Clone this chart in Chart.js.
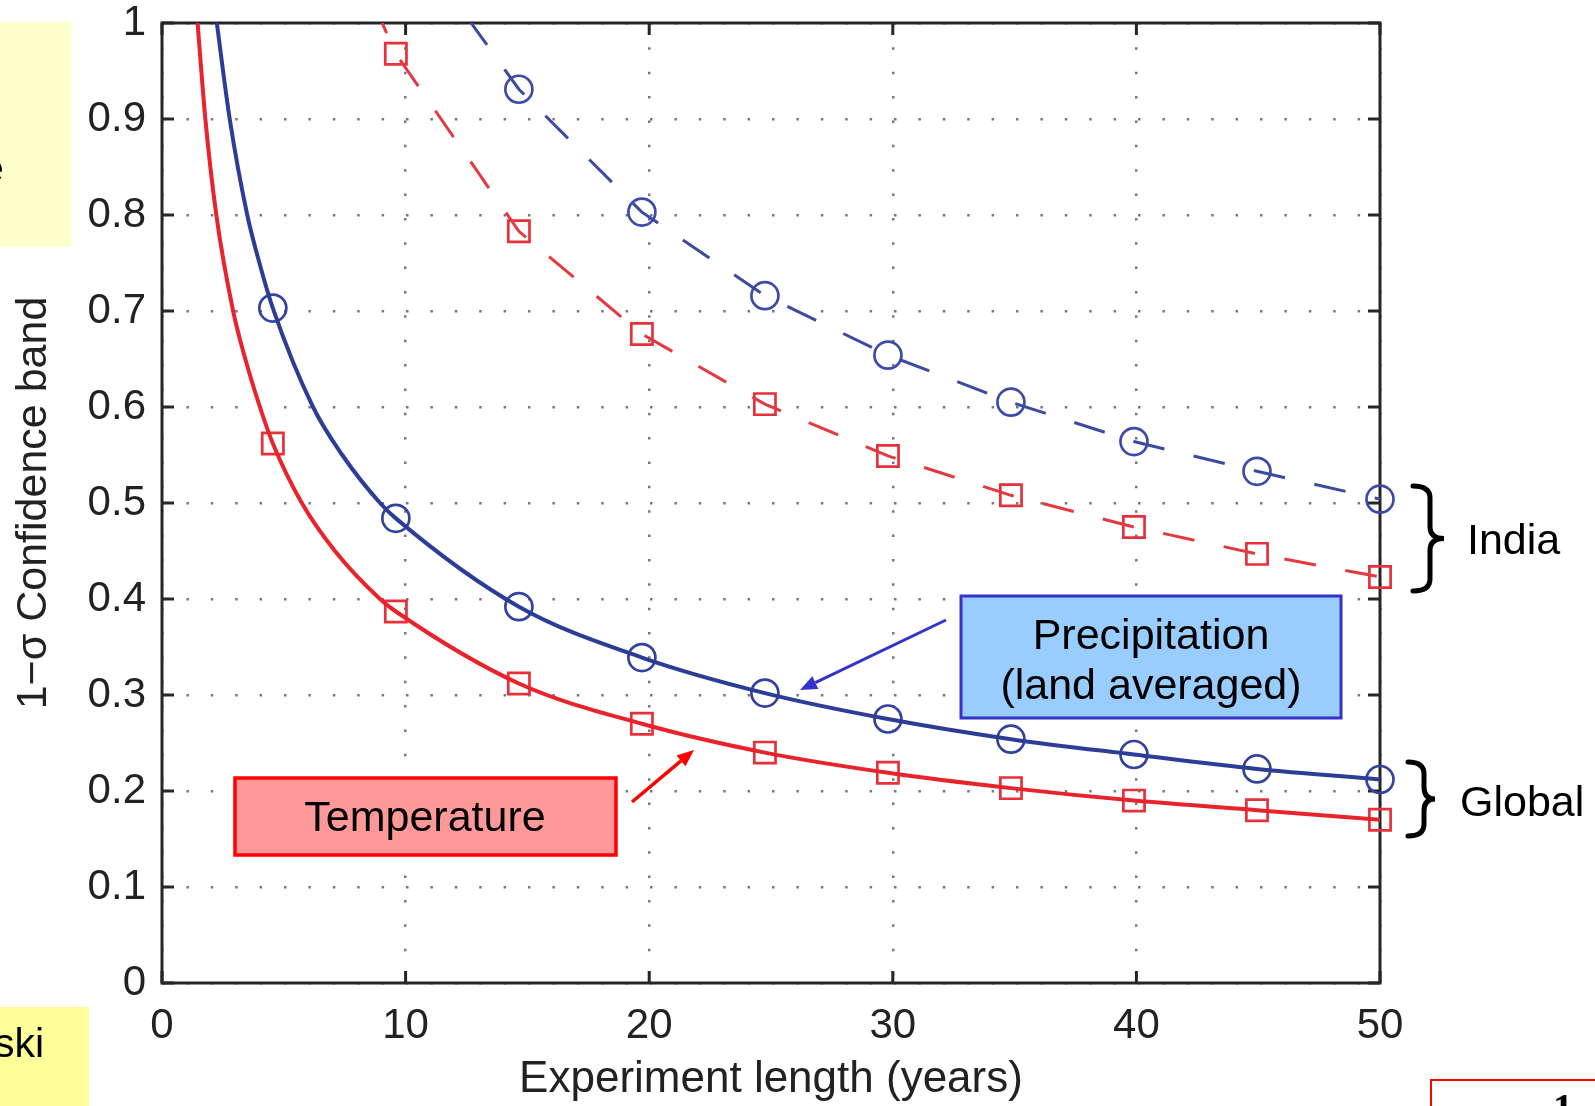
<!DOCTYPE html>
<html>
<head>
<meta charset="utf-8">
<script src="https://cdn.jsdelivr.net/npm/chart.js@4.4.1/dist/chart.umd.min.js"></script>
<style>
html,body{margin:0;padding:0;background:#fff;overflow:hidden}
canvas{display:block}
</style>
</head>
<body>
<canvas id="c" width="1595" height="1106"></canvas>
<script>
// ---- data ----
const markerX      = [4.55, 9.6, 14.65, 19.7, 24.75, 29.8, 34.85, 39.9, 44.95, 50];
const globalTemp   = [0.562, 0.387, 0.312, 0.270, 0.240, 0.219, 0.203, 0.190, 0.180, 0.170];
const globalPrecip = [0.703, 0.484, 0.392, 0.339, 0.302, 0.275, 0.254, 0.238, 0.223, 0.212];
const indiaTemp    = [1.256, 0.968, 0.783, 0.676, 0.603, 0.549, 0.508, 0.475, 0.447, 0.423];
const indiaPrecip  = [null, 1.109, 0.931, 0.803, 0.716, 0.654, 0.605, 0.564, 0.533, 0.504];

// extra points read along the steep parts of the two solid curves
const globalTempCurveX   = [1.46, 1.78, 2.23, 2.92, 3.42, 4.02, 5.74, 7.1, 8.95];
const globalTempCurveY   = [1.0, 0.9, 0.8, 0.7, 0.65, 0.6, 0.5, 0.45, 0.4];
const globalPrecipCurveX = [2.25, 2.78, 3.5, 4.0, 6.2, 7.4, 8.95];
const globalPrecipCurveY = [1.0, 0.9, 0.8, 0.75, 0.6, 0.55, 0.5];

const xTickLabels = ['0', '10', '20', '30', '40', '50'];
const yTickLabels = ['0', '0.1', '0.2', '0.3', '0.4', '0.5', '0.6', '0.7', '0.8', '0.9', '1'];

const xTitle = 'Experiment length (years)';
const yTitle = '1\u2212\u03c3 Confidence band';

// ---- helpers ----
const pts = (xs, ys) => xs.map((x, i) => ({x: x, y: ys[i]})).filter(p => p.y !== null);
const curve = (xs, ys, ex, ey) => pts(xs, ys).concat(pts(ex, ey)).sort((a, b) => a.x - b.x);
const inRange = arr => arr.filter(p => p.y <= 1);

const FONT = '"Liberation Sans", Arial, Helvetica, sans-serif';
const RED = '#e8232b', BLUE = '#2b3d96';

const framePlugin = {
  id: 'frame',
  beforeDatasetsDraw(chart) {
    const {ctx, chartArea: a, scales} = chart;
    ctx.save();
    ctx.strokeStyle = '#262626';
    ctx.lineWidth = 3;
    ctx.strokeRect(a.left, a.top, a.right - a.left, a.bottom - a.top);
    const L = 12;
    ctx.beginPath();
    scales.x.ticks.forEach(t => {
      const px = scales.x.getPixelForValue(t.value);
      ctx.moveTo(px, a.bottom); ctx.lineTo(px, a.bottom - L);
      ctx.moveTo(px, a.top); ctx.lineTo(px, a.top + L);
    });
    scales.y.ticks.forEach(t => {
      const py = scales.y.getPixelForValue(t.value);
      ctx.moveTo(a.left, py); ctx.lineTo(a.left + L, py);
      ctx.moveTo(a.right, py); ctx.lineTo(a.right - L, py);
    });
    ctx.stroke();
    ctx.restore();
  }
};

function arrow(ctx, x1, y1, x2, y2, color, w) {
  const ang = Math.atan2(y2 - y1, x2 - x1);
  const hl = 17, hw = 7;
  const bx = x2 - hl * Math.cos(ang), by = y2 - hl * Math.sin(ang);
  ctx.strokeStyle = color; ctx.fillStyle = color; ctx.lineWidth = w;
  ctx.beginPath(); ctx.moveTo(x1, y1); ctx.lineTo(bx, by); ctx.stroke();
  ctx.beginPath();
  ctx.moveTo(x2, y2);
  ctx.lineTo(bx + hw * Math.sin(ang), by - hw * Math.cos(ang));
  ctx.lineTo(bx - hw * Math.sin(ang), by + hw * Math.cos(ang));
  ctx.closePath(); ctx.fill();
}

function brace(ctx, x0, xs, x1, y0, y1) {
  const ym = (y0 + y1) / 2, r = 12;
  ctx.beginPath();
  ctx.moveTo(x0, y0);
  ctx.quadraticCurveTo(xs, y0, xs, y0 + r);
  ctx.lineTo(xs, ym - r);
  ctx.quadraticCurveTo(xs, ym, x1, ym);
  ctx.quadraticCurveTo(xs, ym, xs, ym + r);
  ctx.lineTo(xs, y1 - r);
  ctx.quadraticCurveTo(xs, y1, x0, y1);
  ctx.stroke();
}

const annotationPlugin = {
  id: 'annot',
  afterDraw(chart) {
    const ctx = chart.ctx;
    ctx.save();
    // side panels of the slide
    ctx.fillStyle = '#ffffcc';
    ctx.fillRect(0, 22, 71, 225);
    ctx.fillStyle = '#ffff99';
    ctx.fillRect(0, 1007, 89, 99);
    ctx.fillStyle = '#000';
    ctx.font = '41px ' + FONT;
    ctx.textAlign = 'left'; ctx.textBaseline = 'alphabetic';
    ctx.fillText('e', -19, 182);
    ctx.textAlign = 'right';
    ctx.fillText('ski', 44, 1057);
    // bottom-right box
    ctx.fillStyle = '#fff'; ctx.strokeStyle = '#ff0000'; ctx.lineWidth = 2;
    ctx.fillRect(1431, 1080, 170, 40);
    ctx.strokeRect(1431, 1080, 170, 40);
    ctx.fillStyle = '#000';
    ctx.font = 'bold 40px "Liberation Serif", "Times New Roman", serif';
    ctx.textAlign = 'center';
    ctx.fillText('1', 1563, 1121);

    // Precipitation callout
    ctx.fillStyle = '#99ccff'; ctx.strokeStyle = '#3333cc'; ctx.lineWidth = 3;
    ctx.fillRect(961, 596, 380, 122);
    ctx.strokeRect(961, 596, 380, 122);
    ctx.fillStyle = '#000';
    ctx.font = '43px ' + FONT;
    ctx.textAlign = 'center';
    ctx.fillText('Precipitation', 1151, 649);
    ctx.fillText('(land averaged)', 1151, 699);
    arrow(ctx, 946, 620, 800, 690, '#3333cc', 3);

    // Temperature callout
    ctx.fillStyle = '#ff9999'; ctx.strokeStyle = '#ff0000'; ctx.lineWidth = 3.5;
    ctx.fillRect(235, 778, 381, 77);
    ctx.strokeRect(235, 778, 381, 77);
    ctx.fillStyle = '#000';
    ctx.fillText('Temperature', 425, 831);
    arrow(ctx, 632, 802, 694, 750, '#ff0000', 3.5);

    // braces and region labels
    ctx.strokeStyle = '#000'; ctx.lineWidth = 5; ctx.lineCap = 'round';
    brace(ctx, 1413, 1430, 1444, 486, 591);
    brace(ctx, 1408, 1424, 1435, 762, 836);
    ctx.fillStyle = '#000';
    ctx.textAlign = 'left';
    ctx.fillText('India', 1467, 554);
    ctx.fillText('Global', 1460, 816);
    ctx.restore();
  }
};

const markerBase = {showLine: false, clip: false, pointBackgroundColor: 'rgba(0,0,0,0)', pointBorderWidth: 2.7, pointHoverRadius: 0};

new Chart(document.getElementById('c'), {
  type: 'line',
  data: {
    datasets: [
      {label: 'Global temperature', data: curve(markerX, globalTemp, globalTempCurveX, globalTempCurveY),
       borderColor: RED, borderWidth: 4, pointRadius: 0, cubicInterpolationMode: 'monotone', fill: false},
      {label: 'Global precipitation', data: curve(markerX, globalPrecip, globalPrecipCurveX, globalPrecipCurveY),
       borderColor: BLUE, borderWidth: 4, pointRadius: 0, cubicInterpolationMode: 'monotone', fill: false},
      {label: 'India temperature', data: pts(markerX, indiaTemp),
       borderColor: '#e23a40', borderWidth: 3, borderDash: [32, 30], pointRadius: 0, tension: 0, fill: false},
      {label: 'India precipitation', data: pts(markerX, indiaPrecip),
       borderColor: '#3c4aa0', borderWidth: 3, borderDash: [32, 30], pointRadius: 0, tension: 0, fill: false},
      Object.assign({label: 'Global temperature markers', data: inRange(pts(markerX, globalTemp)),
       pointStyle: 'rect', pointRadius: 15, pointBorderColor: '#e8303a'}, markerBase),
      Object.assign({label: 'Global precipitation markers', data: inRange(pts(markerX, globalPrecip)),
       pointStyle: 'circle', pointRadius: 13.5, pointBorderColor: '#33429e'}, markerBase),
      Object.assign({label: 'India temperature markers', data: inRange(pts(markerX, indiaTemp)),
       pointStyle: 'rect', pointRadius: 15, pointBorderColor: '#e8303a'}, markerBase),
      Object.assign({label: 'India precipitation markers', data: inRange(pts(markerX, indiaPrecip)),
       pointStyle: 'circle', pointRadius: 13.5, pointBorderColor: '#3d4aa8'}, markerBase)
    ]
  },
  options: {
    responsive: false,
    animation: false,
    events: [],
    layout: {padding: {left: 0, top: 23, right: 215, bottom: 0}},
    plugins: {legend: {display: false}, tooltip: {enabled: false}, title: {display: false}},
    scales: {
      x: {
        type: 'linear', min: 0, max: 50,
        afterFit: s => { s.height = 123; s.paddingLeft = 0; s.paddingRight = 0; },
        afterBuildTicks: s => { s.ticks = xTickLabels.map(v => ({value: parseFloat(v)})); },
        grid: {color: '#777', lineWidth: 2.5, drawTicks: false},
        border: {display: false, dash: [2.5, 21.86]},
        ticks: {padding: 22, color: '#222', font: {family: FONT, size: 42, lineHeight: 1}, maxRotation: 0, autoSkip: false,
                callback: (v, i) => xTickLabels[i]},
        title: {display: true, text: xTitle, color: '#222', font: {family: FONT, size: 44}, padding: {top: 0, bottom: 0}}
      },
      y: {
        type: 'linear', min: 0, max: 1,
        afterFit: s => { s.width = 162; s.paddingTop = 0; s.paddingBottom = 0; },
        afterBuildTicks: s => { s.ticks = yTickLabels.map(v => ({value: parseFloat(v)})); },
        grid: {color: '#777', lineWidth: 2.5, drawTicks: false},
        border: {display: false, dash: [2.5, 21.9]},
        ticks: {padding: 16, color: '#222', font: {family: FONT, size: 42, lineHeight: 1}, autoSkip: false,
                callback: (v, i) => yTickLabels[i]},
        title: {display: true, text: yTitle, color: '#222', font: {family: FONT, size: 43}, padding: {top: 8, bottom: 0}}
      }
    }
  },
  plugins: [framePlugin, annotationPlugin]
});
</script>
</body>
</html>
